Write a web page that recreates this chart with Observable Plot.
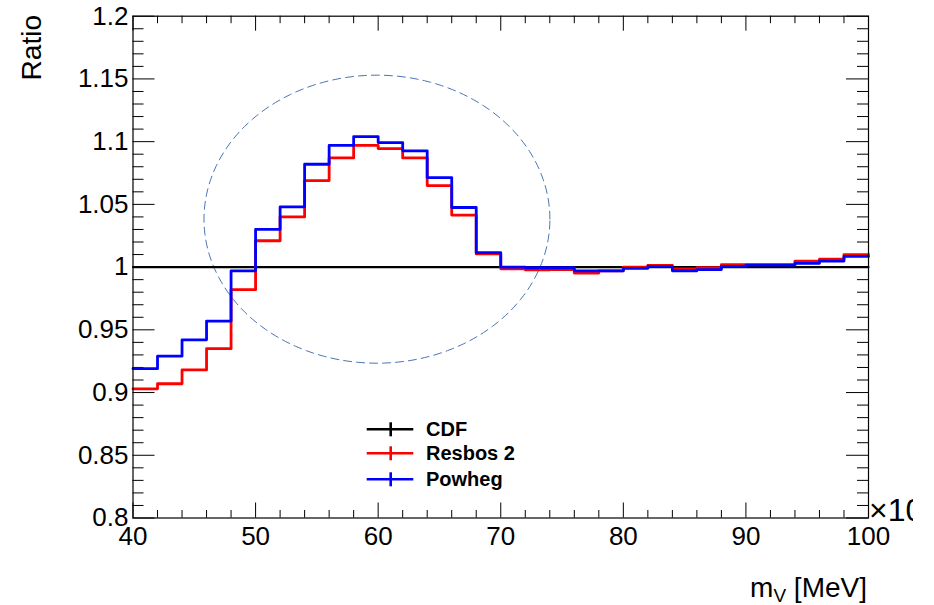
<!DOCTYPE html>
<html><head><meta charset="utf-8">
<script src="https://cdn.jsdelivr.net/npm/d3@7"></script>
<script src="https://cdn.jsdelivr.net/npm/@observablehq/plot@0.6"></script>
<style>html,body{margin:0;padding:0;background:#fff;overflow:hidden} svg{display:block}</style>
</head><body><div id="chart"></div>
<script>
// bin lower edges (x in units of 10^3 MeV), bin width 2
const binLow = [40,42,44,46,48,50,52,54,56,58,60,62,64,66,68,70,72,74,76,78,80,82,84,86,88,90,92,94,96,98];
const binHigh = 100;
const cdfRatio = [1,1,1,1,1,1,1,1,1,1,1,1,1,1,1,1,1,1,1,1,1,1,1,1,1,1,1,1,1,1];
const resbosRatio = [0.903,0.907,0.918,0.935,0.982,1.021,1.040,1.069,1.087,1.097,1.0945,1.087,1.065,1.0415,1.0105,0.9987,0.9978,0.998,0.9952,0.997,1.000,1.0013,0.9985,0.9995,1.002,1.002,1.002,1.0048,1.0064,1.010];
const powhegRatio = [0.919,0.929,0.942,0.957,0.997,1.030,1.048,1.082,1.097,1.104,1.0993,1.0927,1.0714,1.0475,1.0115,1.000,0.9995,0.9995,0.997,0.997,0.999,1.0005,0.997,0.998,1.0005,1.0015,1.0015,1.003,1.0048,1.0085];
const seriesNames = ["CDF","Resbos 2","Powheg"];
const seriesColors = ["#000000","#ff0000","#0000ff"];
const xMajor = [40,50,60,70,80,90,100];
const xMinor = [42,44,46,48,52,54,56,58,62,64,66,68,72,74,76,78,82,84,86,88,92,94,96,98];
const yMajor = [0.8,0.85,0.9,0.95,1,1.05,1.1,1.15,1.2];
const yMajorLabels = ["0.8","0.85","0.9","0.95","1","1.05","1.1","1.15","1.2"];
const yMinor = [0.81,0.82,0.83,0.84,0.86,0.87,0.88,0.89,0.91,0.92,0.93,0.94,0.96,0.97,0.98,0.99,1.01,1.02,1.03,1.04,1.06,1.07,1.08,1.09,1.11,1.12,1.13,1.14,1.16,1.17,1.18,1.19];
// dashed ellipse annotation: centre and radii in data units
const ellipseCenter = [59.9, 1.0382];
const ellipseRadii = [14.11, 0.1148];

function steps(vals){
  const pts = binLow.map((x,i)=>({x, y: vals[i]}));
  pts.push({x: binHigh, y: vals[vals.length-1]});
  return pts;
}
const ellipsePts = d3.range(0, 361, 2).map(a=>{
  const t = a*Math.PI/180;
  return {x: ellipseCenter[0] + ellipseRadii[0]*Math.cos(t), y: ellipseCenter[1] + ellipseRadii[1]*Math.sin(t)};
});

const W=934, H=605, mL=132.5, mR=66, mT=15.7, mB=87.5;
const fw = W-mL-mR, fh = H-mT-mB;
const font = "'Liberation Sans', Arial, Helvetica, sans-serif";

const plot = Plot.plot({
  width: W, height: H,
  marginLeft: mL, marginRight: mR, marginTop: mT, marginBottom: mB,
  style: {fontFamily: font, background: "white", overflow: "hidden", color: "black"},
  x: {domain: [40,100], label: null},
  y: {domain: [0.8,1.2], label: null},
  marks: [
    // ROOT-style inward ticks on all four sides
    Plot.ruleX(xMajor, {x: d=>d, insetTop: fh-15, stroke: "black", strokeWidth: 1}),
    Plot.ruleX(xMinor, {x: d=>d, insetTop: fh-7.5, stroke: "black", strokeWidth: 1}),
    Plot.ruleX(xMajor, {x: d=>d, insetBottom: fh-15, stroke: "black", strokeWidth: 1}),
    Plot.ruleX(xMinor, {x: d=>d, insetBottom: fh-7.5, stroke: "black", strokeWidth: 1}),
    Plot.ruleY(yMajor, {y: d=>d, insetRight: fw-22, stroke: "black", strokeWidth: 1}),
    Plot.ruleY(yMinor, {y: d=>d, insetRight: fw-11, stroke: "black", strokeWidth: 1}),
    Plot.ruleY(yMajor, {y: d=>d, insetLeft: fw-22, stroke: "black", strokeWidth: 1}),
    Plot.ruleY(yMinor, {y: d=>d, insetLeft: fw-11, stroke: "black", strokeWidth: 1}),
    Plot.axisX({ticks: xMajor, tickSize: 0, tickPadding: 9, fontSize: 26, label: null, tickFormat: d=>String(d)}),
    Plot.axisY({ticks: yMajor, tickSize: 0, tickPadding: 4.5, fontSize: 26, label: null, tickFormat: d=>yMajorLabels[yMajor.indexOf(d)]}),
    Plot.line(ellipsePts, {x: "x", y: "y", stroke: "#4b76b3", strokeWidth: 1, strokeDasharray: "8,5"}),
    Plot.line(steps(cdfRatio), {x: "x", y: "y", curve: "step-after", stroke: seriesColors[0], strokeWidth: 2.2}),
    Plot.line(steps(resbosRatio), {x: "x", y: "y", curve: "step-after", stroke: seriesColors[1], strokeWidth: 2.8}),
    Plot.line(steps(powhegRatio), {x: "x", y: "y", curve: "step-after", stroke: seriesColors[2], strokeWidth: 2.8}),
    Plot.frame({stroke: "black", strokeWidth: 1.2})
  ]
});
document.getElementById("chart").appendChild(plot);

const svg = d3.select(plot);
// legend
const legY = [429.3, 453.3, 479.3];
seriesNames.forEach((name, i)=>{
  const g = svg.append("g");
  g.append("line").attr("x1", 366.7).attr("x2", 413.3).attr("y1", legY[i]).attr("y2", legY[i])
    .attr("stroke", seriesColors[i]).attr("stroke-width", 2.6);
  g.append("line").attr("x1", 390.7).attr("x2", 390.7).attr("y1", legY[i]-7).attr("y2", legY[i]+7)
    .attr("stroke", seriesColors[i]).attr("stroke-width", 2.6);
  g.append("text").attr("x", 426).attr("y", legY[i]+6.8).attr("font-family", font)
    .attr("text-anchor", "start")
    .attr("font-weight", "bold").attr("font-size", 20).attr("fill", "black").text(name);
});
// y axis title
svg.append("text").attr("transform", "translate(41,15) rotate(-90)").attr("text-anchor", "end")
  .attr("font-family", font).attr("font-size", 28).attr("fill", "black").text("Ratio");
// x axis title
const xt = svg.append("text").attr("x", 867).attr("y", 597).attr("text-anchor", "end")
  .attr("font-family", font).attr("font-size", 28).attr("fill", "black");
xt.append("tspan").text("m");
xt.append("tspan").attr("font-size", 19).attr("dy", 5).text("V");
xt.append("tspan").attr("dy", -5).text(" [MeV]");
// exponent, cut off on the right as in the reference
svg.append("defs").append("clipPath").attr("id", "expclip")
  .append("rect").attr("x", 860).attr("y", 480).attr("width", 53).attr("height", 60);
const ex = svg.append("text").attr("x", 869).attr("y", 521).attr("text-anchor", "start")
  .attr("clip-path", "url(#expclip)")
  .attr("font-family", font).attr("font-size", 32).attr("fill", "black");
ex.append("tspan").text("×10");
ex.append("tspan").attr("font-size", 21).attr("dy", -13).text("3");
</script>
</body></html>
